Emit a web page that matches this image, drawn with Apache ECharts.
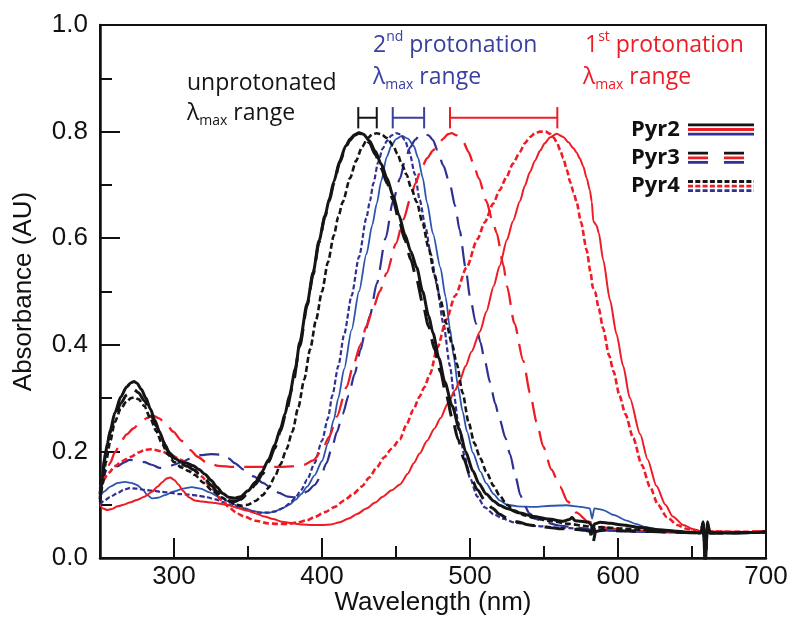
<!DOCTYPE html>
<html>
<head>
<meta charset="utf-8">
<script src="https://cdn.jsdelivr.net/npm/echarts/dist/echarts.min.js"></script>
<style>
  html, body { margin: 0; padding: 0; background: #ffffff; }
  #chart { width: 793px; height: 617px; }
</style>
</head>
<body>
<div id="chart"></div>
<script>
// Absorbance spectra (wavelength in nm, absorbance in AU)
// Pyr2 = solid, Pyr3 = long dash, Pyr4 = short dash
// black = unprotonated, red = 1st protonation, blue = 2nd protonation

const pyr2Black = [[250,0.12],[251.5,0.15],[253,0.185],[255,0.215],[257,0.24],[260,0.272],[264,0.302],[268,0.321],[271,0.329],[273,0.331],[275,0.328],[278,0.316],[281,0.3],[284,0.28],[287,0.259],[290,0.238],[294,0.212],[297,0.197],[301,0.186],[305,0.18],[309,0.178],[313,0.173],[317,0.166],[321,0.157],[325,0.146],[329,0.133],[333,0.121],[337,0.114],[341,0.112],[345,0.115],[350,0.126],[355,0.142],[359,0.16],[364,0.185],[368,0.212],[372,0.243],[375,0.27],[378,0.305],[382,0.355],[385,0.405],[390,0.478],[394,0.536],[398,0.595],[402,0.642],[405,0.674],[408,0.706],[412,0.745],[416,0.773],[419,0.786],[422,0.794],[425,0.798],[428,0.795],[432,0.783],[436,0.763],[440,0.739],[444,0.712],[448,0.68],[452,0.643],[456,0.607],[460,0.575],[464,0.545],[468,0.5],[472,0.455],[475,0.422],[479,0.375],[483,0.33],[488,0.285],[493,0.24],[497,0.2],[502,0.163],[506,0.14],[511,0.12],[516,0.107],[520,0.099],[525,0.093],[533,0.085],[543,0.078],[553,0.073],[563,0.069],[567,0.072],[569,0.076],[571,0.07],[575,0.069],[580,0.067],[582,0.062],[583,0.05],[584,0.064],[588,0.067],[595,0.065],[603,0.062],[615,0.057],[628,0.053],[640,0.05],[650,0.048],[656,0.047],[657.5,0.068],[659,-0.01],[660.5,0.068],[662,0.047],[670,0.047],[680,0.047],[690,0.048],[700,0.049]];

const pyr3Black = [[250,0.11],[252,0.16],[254,0.2],[257,0.235],[260,0.265],[264,0.29],[268,0.306],[271,0.314],[273,0.316],[276,0.31],[280,0.295],[284,0.272],[288,0.248],[292,0.222],[296,0.2],[300,0.185],[305,0.176],[309,0.172],[313,0.166],[317,0.158],[321,0.148],[325,0.137],[329,0.125],[333,0.115],[337,0.108],[341,0.106],[345,0.11],[350,0.121],[355,0.138],[360,0.158],[364,0.18],[368,0.206],[372,0.238],[376,0.276],[380,0.32],[385,0.398],[390,0.474],[394,0.532],[398,0.592],[402,0.64],[405,0.67],[408,0.703],[412,0.742],[416,0.771],[419,0.784],[422,0.793],[425,0.797],[428,0.793],[432,0.779],[436,0.757],[440,0.731],[444,0.703],[448,0.672],[452,0.634],[456,0.597],[460,0.56],[464,0.522],[468,0.478],[472,0.435],[476,0.392],[480,0.35],[484,0.305],[488,0.262],[492,0.222],[496,0.185],[500,0.155],[505,0.128],[510,0.108],[515,0.094],[520,0.082],[525,0.075],[532,0.068],[540,0.062],[550,0.058],[560,0.055],[570,0.054],[578,0.052],[581,0.05],[583,0.028],[585,0.05],[590,0.052],[600,0.051],[615,0.05],[630,0.049],[645,0.048],[656,0.047],[657.5,0.066],[659,-0.01],[660.5,0.066],[662,0.047],[675,0.047],[690,0.048],[700,0.049]];

const pyr4Black = [[250,0.105],[252,0.14],[254,0.18],[257,0.22],[260,0.255],[264,0.28],[268,0.294],[271,0.3],[273,0.301],[276,0.298],[280,0.285],[284,0.262],[288,0.238],[292,0.214],[296,0.194],[300,0.18],[305,0.17],[310,0.163],[314,0.156],[320,0.141],[326,0.126],[332,0.114],[337,0.106],[342,0.1],[346,0.098],[350,0.1],[355,0.107],[360,0.118],[364,0.132],[368,0.152],[372,0.176],[376,0.204],[380,0.237],[384,0.283],[388,0.335],[392,0.392],[396,0.447],[400,0.5],[404,0.555],[408,0.605],[411,0.64],[414,0.668],[419,0.713],[423,0.745],[427,0.771],[431,0.788],[434,0.795],[437,0.797],[440,0.795],[444,0.788],[448,0.774],[451,0.758],[454,0.738],[457.2,0.719],[460,0.696],[464,0.668],[468,0.628],[472,0.582],[476,0.532],[480,0.484],[484,0.44],[488,0.4],[491,0.365],[495,0.31],[499,0.255],[503,0.215],[507,0.187],[511,0.162],[516,0.135],[520,0.117],[525,0.1],[530,0.089],[537,0.08],[543,0.075],[555,0.069],[567,0.064],[578,0.06],[582,0.058],[583,0.045],[584,0.058],[592,0.057],[605,0.055],[620,0.052],[635,0.05],[648,0.048],[656,0.047],[657.5,0.064],[659,0.0],[660.5,0.064],[662,0.047],[675,0.047],[690,0.048],[700,0.049]];

const pyr2Blue = [[250,0.115],[253,0.125],[257,0.134],[262,0.141],[267,0.143],[271,0.141],[275,0.137],[279,0.128],[282,0.118],[285,0.112],[289,0.113],[294,0.118],[300,0.125],[306,0.13],[312,0.133],[318,0.13],[324,0.123],[330,0.115],[337,0.106],[343,0.098],[348,0.093],[354,0.088],[359,0.085],[364,0.085],[368,0.087],[373,0.093],[378,0.1],[382,0.109],[386,0.12],[390,0.134],[395,0.155],[400,0.182],[404,0.215],[408,0.26],[411,0.3],[415,0.355],[420,0.428],[425,0.5],[430,0.57],[434,0.625],[437,0.665],[440,0.707],[443.7,0.752],[447,0.774],[450,0.786],[454,0.792],[458,0.787],[462,0.773],[465,0.75],[468,0.714],[471,0.666],[475,0.608],[480,0.545],[483.5,0.49],[486.5,0.43],[489,0.378],[492,0.32],[495,0.275],[498,0.237],[502,0.197],[507,0.162],[511,0.14],[516,0.12],[520,0.108],[525,0.1],[532,0.097],[543,0.096],[555,0.098],[565,0.099],[575,0.096],[581,0.093],[582.5,0.074],[584,0.093],[590,0.09],[597,0.081],[606,0.07],[612,0.064],[619,0.058],[630,0.052],[645,0.049],[656,0.047],[657.5,0.055],[659,0.025],[660.5,0.055],[662,0.047],[675,0.047],[690,0.047],[700,0.048]];

const pyr3Blue = [[250,0.13],[252,0.152],[255,0.168],[258,0.174],[262,0.172],[266,0.179],[270,0.184],[275,0.183],[280,0.18],[285,0.175],[290,0.169],[295,0.17],[300,0.175],[306,0.181],[312,0.188],[318,0.193],[325,0.195],[332,0.194],[337,0.187],[341,0.178],[347,0.166],[354,0.153],[360,0.141],[366,0.131],[371,0.122],[377,0.115],[382,0.114],[386,0.118],[390,0.125],[395,0.137],[399,0.152],[403,0.178],[407,0.21],[410,0.236],[414,0.27],[418,0.305],[422,0.345],[426,0.39],[429,0.422],[432.4,0.455],[437,0.515],[443,0.6],[448,0.67],[452.7,0.712],[456,0.745],[459.5,0.77],[463,0.785],[466,0.793],[469,0.796],[472,0.793],[475,0.784],[478,0.765],[482,0.736],[486.5,0.7],[490,0.66],[493,0.615],[497,0.545],[500,0.49],[504,0.44],[507,0.405],[510,0.37],[513.5,0.33],[517,0.29],[520,0.26],[524,0.225],[527,0.195],[531,0.15],[534,0.118],[537,0.098],[540,0.084],[545,0.073],[552,0.066],[560,0.061],[570,0.058],[578,0.055],[582,0.053],[583,0.045],[584,0.053],[592,0.052],[605,0.05],[620,0.049],[640,0.048],[656,0.047],[657.5,0.055],[659,0.025],[660.5,0.055],[662,0.047],[680,0.047],[700,0.048]];

const pyr4Blue = [[250,0.1],[253,0.108],[257,0.115],[262,0.122],[266,0.128],[270,0.131],[275,0.13],[280,0.128],[286,0.126],[292,0.124],[298,0.122],[304,0.12],[310,0.119],[316,0.117],[322,0.114],[328,0.11],[333,0.105],[340,0.098],[346,0.092],[352,0.088],[358,0.085],[364,0.085],[369,0.088],[374,0.094],[378,0.102],[382,0.113],[386,0.128],[390,0.147],[395,0.178],[400,0.22],[404,0.262],[407,0.305],[411,0.36],[415,0.42],[420,0.492],[425,0.565],[430,0.638],[432.4,0.67],[434.7,0.703],[438,0.743],[441,0.768],[444,0.783],[447,0.793],[450,0.797],[453,0.795],[456,0.784],[459,0.762],[462.8,0.72],[466,0.672],[470,0.62],[473.5,0.57],[477.4,0.515],[482,0.44],[486.5,0.36],[489,0.31],[492,0.255],[496,0.195],[500,0.15],[505,0.115],[510,0.095],[516,0.082],[522,0.074],[531,0.066],[545,0.06],[560,0.057],[575,0.055],[581,0.054],[583,0.043],[585,0.054],[595,0.052],[610,0.05],[630,0.049],[645,0.048],[656,0.047],[657.5,0.055],[659,0.025],[660.5,0.055],[662,0.047],[680,0.047],[700,0.048]];

const pyr2Red = [[250,0.1],[252,0.093],[255,0.09],[258,0.092],[262,0.097],[266,0.1],[270,0.104],[275,0.109],[280,0.115],[285,0.124],[289,0.134],[292,0.142],[295,0.149],[297.5,0.151],[300,0.147],[303,0.138],[306,0.126],[310,0.114],[314,0.108],[319,0.106],[325,0.104],[331,0.102],[337,0.099],[343,0.094],[349,0.089],[355,0.084],[361,0.078],[367,0.073],[373,0.068],[380,0.065],[387,0.063],[393,0.062],[400,0.062],[406,0.063],[412,0.067],[418,0.074],[424,0.083],[430,0.093],[436,0.104],[441,0.115],[447,0.127],[452.7,0.138],[458,0.158],[462,0.178],[466,0.196],[471,0.22],[476,0.243],[480,0.262],[485,0.29],[490,0.315],[493,0.332],[497,0.36],[501,0.387],[506.8,0.425],[511,0.462],[516,0.51],[520,0.548],[525,0.597],[529,0.632],[533.8,0.67],[537,0.698],[540.5,0.724],[544,0.746],[547.3,0.764],[550.5,0.778],[554,0.789],[558.6,0.796],[563,0.79],[566.5,0.78],[569.8,0.769],[572,0.761],[574.3,0.749],[576.5,0.735],[578.8,0.713],[581,0.69],[582.3,0.668],[583.3,0.632],[585.5,0.624],[587,0.61],[590,0.559],[594.6,0.484],[599,0.42],[603.5,0.36],[608,0.3],[615,0.232],[620,0.185],[626,0.135],[632,0.1],[637,0.078],[644,0.062],[651,0.054],[656,0.05],[657.5,0.058],[659,0.03],[660.5,0.058],[662,0.05],[675,0.049],[690,0.049],[700,0.05]];

const pyr3Red = [[250,0.12],[253,0.15],[256.8,0.178],[260,0.198],[264.6,0.221],[268,0.232],[272.5,0.243],[277,0.253],[282,0.263],[286,0.267],[290,0.262],[295,0.25],[299.5,0.237],[305,0.22],[310.8,0.203],[316,0.19],[322,0.179],[330,0.173],[340,0.171],[350,0.171],[362,0.171],[372,0.171],[380,0.172],[388,0.175],[394,0.183],[400,0.202],[405,0.228],[410,0.265],[416.7,0.321],[421,0.36],[426,0.4],[430,0.435],[434.7,0.47],[439,0.5],[443.6,0.534],[450,0.59],[455,0.635],[459.5,0.672],[463,0.702],[467,0.73],[471,0.75],[475.2,0.765],[479,0.778],[482,0.787],[485,0.795],[487.5,0.797],[491,0.793],[495.4,0.781],[499,0.762],[502,0.742],[506,0.712],[511,0.67],[515,0.635],[518,0.61],[522.5,0.55],[525,0.51],[530,0.44],[536,0.37],[540.5,0.31],[545,0.255],[549.5,0.209],[555,0.166],[560.8,0.134],[566,0.106],[572,0.085],[580,0.068],[588,0.059],[595,0.055],[610,0.052],[630,0.05],[656,0.049],[657.5,0.056],[659,0.03],[660.5,0.056],[662,0.049],[680,0.049],[700,0.05]];

const pyr4Red = [[250,0.13],[252,0.145],[256,0.16],[260,0.172],[265,0.182],[271,0.19],[276,0.198],[280.4,0.203],[285,0.204],[291.7,0.2],[298,0.193],[305,0.184],[312,0.17],[318.7,0.153],[325,0.132],[332,0.109],[338,0.093],[343,0.083],[348,0.077],[355,0.07],[363.7,0.065],[370,0.064],[377,0.064],[384,0.067],[390,0.071],[395,0.077],[402,0.086],[408.8,0.096],[415,0.108],[421,0.12],[426.8,0.134],[432,0.151],[437,0.17],[442,0.189],[447,0.205],[452.7,0.223],[457,0.25],[461.7,0.278],[466,0.303],[469,0.32],[473,0.345],[478,0.395],[484,0.447],[490,0.492],[497.7,0.545],[505,0.598],[510,0.63],[515.7,0.665],[520,0.69],[524.7,0.715],[529,0.74],[533.8,0.762],[537,0.778],[540.5,0.79],[544,0.797],[547.3,0.8],[551,0.8],[554,0.796],[556.5,0.789],[558.6,0.78],[561,0.765],[563,0.75],[565.5,0.728],[567.6,0.706],[570,0.686],[572,0.668],[575,0.63],[578.8,0.578],[581.5,0.535],[583,0.507],[584.5,0.5],[587,0.468],[590,0.43],[594,0.38],[597,0.35],[601,0.305],[605,0.27],[610.3,0.225],[616,0.175],[621.6,0.134],[627,0.1],[632.9,0.077],[640,0.062],[647,0.054],[656,0.05],[657.5,0.058],[659,0.03],[660.5,0.058],[662,0.05],[680,0.049],[700,0.05]];

// λmax ranges (nm) marked above the peaks
const rangeStart = [424.5, 447.8, 486.5];
const rangeEnd   = [437, 469, 559];
const rangeLevel = [0.826, 0.826, 0.826];

// axis ticks
const majorWavelengthTicks = [300, 400, 500, 600, 700];

const BLACK = '#151515';
const RED = '#ee1c25';
const NAVY = '#2e3192';
const BLUE = '#2c55ae';
const rangeColors = [BLACK, '#3a40a0', RED];

const LONG_DASH = [20, 10];
const SHORT_DASH = [6, 3];

const TICK_FONT = "'Liberation Sans', Arial, sans-serif";
const NOTE_FONT = "'Open Sans', 'Noto Sans', sans-serif";

function spectrum(name, data, color, width, dash, z) {
  return {
    name: name,
    type: 'line',
    data: data,
    showSymbol: false,
    smooth: 0.25,
    smoothMonotone: 'x',
    clip: true,
    z: z,
    lineStyle: { color: color, width: width, type: dash || 'solid', cap: 'butt' },
    emphasis: { disabled: true }
  };
}

function noteRich(color) {
  return {
    a:   { fontFamily: NOTE_FONT, fontSize: 23, lineHeight: 30, fill: color },
    sup: { fontFamily: NOTE_FONT, fontSize: 14, lineHeight: 14, verticalAlign: 'top', fill: color },
    sub: { fontFamily: NOTE_FONT, fontSize: 14, lineHeight: 12, verticalAlign: 'bottom', fill: color }
  };
}

function note(x, y, text, color) {
  return {
    type: 'text', x: x, y: y, z: 20, silent: true,
    style: { text: text, rich: noteRich(color), align: 'left', verticalAlign: 'middle', fill: color }
  };
}

// legend: one label and three stacked line samples per compound
const legendLabels = ['Pyr2', 'Pyr3', 'Pyr4'];
const legendDash = [null, [20, 16], [5, 2.3]];
const legendColors = [BLACK, RED, NAVY];
const legendGraphics = [];
legendLabels.forEach(function (label, i) {
  const cy = 129.5 + i * 28.3;
  legendGraphics.push({
    type: 'text', x: 631, y: cy, z: 20, silent: true,
    style: { text: label, fontFamily: NOTE_FONT, fontSize: 22, fontWeight: 'bold', fill: '#111', align: 'left', verticalAlign: 'middle' }
  });
  legendColors.forEach(function (c, j) {
    legendGraphics.push({
      type: 'line', z: 20, silent: true,
      shape: { x1: 688, y1: cy - 4.6 + j * 4.6, x2: 754, y2: cy - 4.6 + j * 4.6 },
      style: { stroke: c, lineWidth: 2.8, lineDash: legendDash[i] }
    });
  });
});

const chart = echarts.init(document.getElementById('chart'), null, { renderer: 'canvas' });

chart.setOption({
  animation: false,
  backgroundColor: '#ffffff',
  grid: {
    left: 100, right: 27, top: 25, bottom: 59,
    outerBoundsMode: 'none', containLabel: false,
    show: true, borderColor: '#111', borderWidth: 2, backgroundColor: 'transparent'
  },
  xAxis: [
    {
      type: 'value', min: 250, max: 700, interval: 50, position: 'bottom',
      name: 'Wavelength (nm)', nameLocation: 'middle', nameGap: 32, nameMoveOverlap: false,
      nameTextStyle: { fontFamily: TICK_FONT, fontSize: 26, color: '#111' },
      axisLine: { show: true, onZero: false, lineStyle: { color: '#111', width: 2.5 } },
      axisTick: { show: true, inside: true, length: 12, lineStyle: { color: '#111', width: 2 } },
      axisLabel: {
        margin: 6, fontFamily: TICK_FONT, fontSize: 26, color: '#111',
        formatter: function (v) { return v % 100 === 0 && v > 250 ? String(v) : ''; }
      },
      splitLine: { show: false }
    },
    {
      type: 'value', min: 250, max: 700, position: 'bottom',
      axisLine: { show: false },
      axisTick: { show: true, inside: true, length: 20, customValues: majorWavelengthTicks, lineStyle: { color: '#111', width: 2 } },
      axisLabel: { show: false },
      splitLine: { show: false }
    }
  ],
  yAxis: {
    type: 'value', min: 0, max: 1, interval: 0.2,
    name: 'Absorbance (AU)', nameLocation: 'middle', nameGap: 63,
    nameTextStyle: { fontFamily: TICK_FONT, fontSize: 26, color: '#111' },
    axisLine: { show: true, onZero: false, lineStyle: { color: '#111', width: 2.5 } },
    axisTick: { show: true, inside: true, length: 20, lineStyle: { color: '#111', width: 2 } },
    minorTick: { show: true, splitNumber: 2, length: 12, lineStyle: { color: '#111', width: 2 } },
    axisLabel: { margin: 12, fontFamily: TICK_FONT, fontSize: 26, color: '#111', formatter: function (v) { return v.toFixed(1); } },
    splitLine: { show: false }
  },
  series: [
    spectrum('Pyr2 unprotonated', pyr2Black, BLACK, 3, null, 4),
    spectrum('Pyr3 unprotonated', pyr3Black, BLACK, 3, LONG_DASH, 4),
    spectrum('Pyr4 unprotonated', pyr4Black, BLACK, 2.6, SHORT_DASH, 4),
    spectrum('Pyr2 2nd protonation', pyr2Blue, BLUE, 1.8, null, 3),
    spectrum('Pyr3 2nd protonation', pyr3Blue, NAVY, 2.2, LONG_DASH, 3),
    spectrum('Pyr4 2nd protonation', pyr4Blue, NAVY, 2.2, [5, 2.5], 3),
    spectrum('Pyr2 1st protonation', pyr2Red, RED, 2, null, 3),
    spectrum('Pyr3 1st protonation', pyr3Red, RED, 2.3, LONG_DASH, 3),
    spectrum('Pyr4 1st protonation', pyr4Red, RED, 2.6, SHORT_DASH, 3),
    {
      name: 'λmax range',
      type: 'custom',
      silent: true,
      z: 6,
      data: rangeStart.map(function (s, i) { return [s, rangeEnd[i], rangeLevel[i]]; }),
      encode: { x: [0, 1], y: 2 },
      renderItem: function (params, api) {
        const cap = 0.02;
        const a = api.coord([api.value(0), api.value(2)]);
        const b = api.coord([api.value(1), api.value(2)]);
        const aTop = api.coord([api.value(0), api.value(2) + cap]);
        const aBot = api.coord([api.value(0), api.value(2) - cap]);
        const style = { stroke: rangeColors[params.dataIndex], lineWidth: 2, fill: null };
        return {
          type: 'group',
          children: [
            { type: 'line', shape: { x1: a[0], y1: a[1], x2: b[0], y2: b[1] }, style: style },
            { type: 'line', shape: { x1: a[0], y1: aTop[1], x2: a[0], y2: aBot[1] }, style: style },
            { type: 'line', shape: { x1: b[0], y1: aTop[1], x2: b[0], y2: aBot[1] }, style: style }
          ]
        };
      }
    }
  ],
  graphic: [
    note(187, 83, '{a|unprotonated}', BLACK),
    note(187, 113, '{a|λ}{sub|max}{a| range}', BLACK),
    note(373, 45, '{a|2}{sup|nd}{a| protonation}', '#3a40a0'),
    note(373, 77, '{a|λ}{sub|max}{a| range}', '#3a40a0'),
    note(585, 45, '{a|1}{sup|st}{a| protonation}', RED),
    note(583, 77, '{a|λ}{sub|max}{a| range}', RED)
  ].concat(legendGraphics)
});
</script>
</body>
</html>
